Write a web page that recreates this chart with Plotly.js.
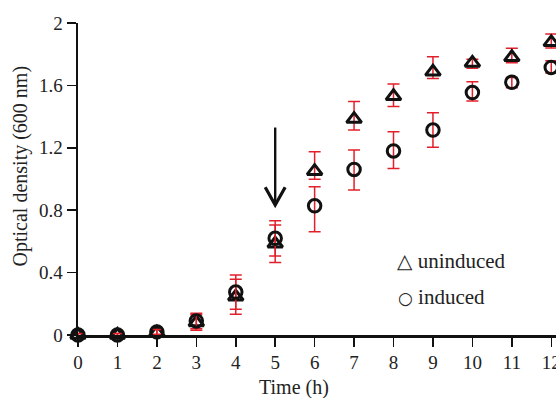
<!DOCTYPE html>
<html>
<head>
<meta charset="utf-8">
<script src="https://cdn.plot.ly/plotly-3.0.1.min.js"></script>
<style>html,body{margin:0;padding:0;background:#fff;}#chart{width:556px;height:398px;}</style>
</head>
<body>
<div id="chart"></div>
<script>
// Time points (h)
const timeH = [0, 1, 2, 3, 4, 5, 6, 7, 8, 9, 10, 11, 12];

// Uninduced (triangles): OD600 and error (up / down)
const uninduced     = [0.0, 0.0, 0.015, 0.08, 0.245, 0.585, 1.05, 1.384, 1.53, 1.687, 1.744, 1.78, 1.876];
const uninducedUp   = [0.01, 0.01, 0.02, 0.05, 0.112, 0.12, 0.125, 0.112, 0.079, 0.097, 0.023, 0.058, 0.054];
const uninducedDown = [0.01, 0.01, 0.02, 0.05, 0.112, 0.121, 0.052, 0.07, 0.066, 0.042, 0.034, 0.035, 0.036];

// Induced (circles): OD600 and error (up / down)
const induced     = [0.0, 0.0, 0.02, 0.09, 0.275, 0.62, 0.828, 1.061, 1.18, 1.314, 1.554, 1.62, 1.715];
const inducedUp   = [0.01, 0.01, 0.015, 0.05, 0.11, 0.113, 0.123, 0.125, 0.123, 0.111, 0.07, 0.031, 0.043];
const inducedDown = [0.01, 0.01, 0.015, 0.05, 0.11, 0.114, 0.166, 0.132, 0.112, 0.111, 0.054, 0.035, 0.035];

// Axis ticks
const xTickVals = [0, 1, 2, 3, 4, 5, 6, 7, 8, 9, 10, 11, 12];
const yTickVals = [0, 0.4, 0.8, 1.2, 1.6, 2];
const yTickText = ["0", "0.4", "0.8", "1.2", "1.6", "2"];

// Labels
const xTitle = "Time (h)";
const yTitle = "Optical density (600 nm)";
const legendSymbols = ["\u25B3", "\u25CB"];
const legendLabels = ["uninduced", "induced"];

// Induction arrow (time, top, tip)
const arrowTime = 5;
const arrowTop = 1.33;
const arrowTip = 0.833;

const red = "#e2202b";
const serif = "Liberation Serif, Times New Roman, serif";

function errs(up, down) {
  return {type: "data", symmetric: false, array: up, arrayminus: down,
          color: red, thickness: 1.5, width: 6};
}

const traces = [
  {
    x: timeH, y: uninduced, type: "scatter", mode: "markers", name: legendLabels[0],
    cliponaxis: false,
    marker: {symbol: "triangle-up-open", size: 13, color: "#111", line: {width: 3, color: "#111"}},
    error_y: errs(uninducedUp, uninducedDown)
  },
  {
    x: timeH, y: induced, type: "scatter", mode: "markers", name: legendLabels[1],
    cliponaxis: false,
    marker: {symbol: "circle-open", size: 12.5, color: "#111", line: {width: 3, color: "#111"}},
    error_y: errs(inducedUp, inducedDown)
  }
];

const symbolSizes = [20, 17];
function legendText(i) {
  return '<span style="font-family:DejaVu Sans;font-size:' + symbolSizes[i] + 'px">' + legendSymbols[i] + '</span> ' + legendLabels[i];
}

const dx = 0.253, dy = 0.114;
const layout = {
  width: 556, height: 398,
  margin: {l: 77.5, r: 0, t: 23.3, b: 63},
  paper_bgcolor: "#fff", plot_bgcolor: "#fff",
  showlegend: false,
  font: {family: serif, color: "#222", size: 19},
  xaxis: {
    range: [0, 12.12], tickvals: xTickVals, ticks: "outside", ticklen: 9, tickwidth: 1.5,
    tickcolor: "#111", showline: true, linewidth: 2.5, linecolor: "#111", ticklabeloverflow: "allow",
    showgrid: false, zeroline: false, tickfont: {family: serif, size: 19, color: "#222"}
  },
  yaxis: {
    range: [0, 2], tickvals: yTickVals, ticktext: yTickText, ticks: "outside", ticklen: 9, tickwidth: 1.5,
    tickcolor: "#111", showline: true, linewidth: 2.5, linecolor: "#111",
    showgrid: false, zeroline: false, tickfont: {family: serif, size: 19, color: "#222"}
  },
  shapes: [
    {type: "line", xref: "x", yref: "y", x0: arrowTime, x1: arrowTime, y0: arrowTop, y1: arrowTip + 0.01,
     line: {color: "#111", width: 2.4}},
    {type: "path", xref: "x", yref: "y",
     path: "M" + (arrowTime - dx) + "," + (arrowTip + dy) + " L" + arrowTime + "," + arrowTip +
           " L" + (arrowTime + dx) + "," + (arrowTip + dy),
     line: {color: "#111", width: 3.2}}
  ],
  annotations: [
    {text: xTitle, xref: "x", yref: "paper", x: 5.48, y: -0.1668, xanchor: "center", yanchor: "middle",
     showarrow: false, font: {family: serif, size: 20, color: "#222"}},
    {text: yTitle, xref: "paper", yref: "paper", x: -0.1202, y: 0.542, xanchor: "center", yanchor: "middle",
     textangle: -90, showarrow: false, font: {family: serif, size: 20, color: "#222"}},
    {text: legendText(0), xref: "paper", yref: "paper", x: 0.664, y: 0.236, xanchor: "left", yanchor: "middle",
     showarrow: false, font: {family: serif, size: 21, color: "#222"}},
    {text: legendText(1), xref: "paper", yref: "paper", x: 0.666, y: 0.122, xanchor: "left", yanchor: "middle",
     showarrow: false, font: {family: serif, size: 21, color: "#222"}}
  ]
};

Plotly.newPlot("chart", traces, layout, {staticPlot: true, displayModeBar: false});
</script>
</body>
</html>
